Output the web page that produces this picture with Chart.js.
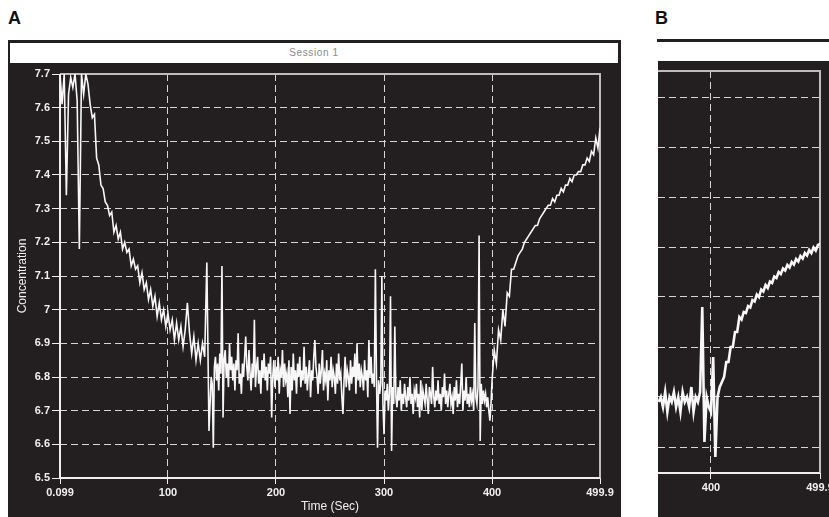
<!DOCTYPE html>
<html><head><meta charset="utf-8">
<script src="https://cdn.jsdelivr.net/npm/chart.js@4.4.0/dist/chart.umd.min.js"></script>
<style>
html,body{margin:0;padding:0;width:829px;height:517px;overflow:hidden;background:#fff;font-family:"Liberation Sans",Arial,sans-serif;}
.lbl{position:absolute;font-weight:bold;font-size:18px;color:#111;line-height:18px;}
#panelA{position:absolute;left:8px;top:40px;width:613px;height:477px;background:#231f20;}
#titleA{position:absolute;left:10px;top:43px;width:608px;height:20px;background:#fff;color:#8a8a8a;font-size:10px;line-height:20px;text-align:center;letter-spacing:0.6px;}
#lineB{position:absolute;left:657px;top:39px;width:172px;height:3px;background:#231f20;}
#panelB{position:absolute;left:658px;top:61px;width:171px;height:456px;background:#231f20;overflow:hidden;}
canvas{position:absolute;left:0;top:0;}
</style></head>
<body>
<div class="lbl" style="left:8px;top:9px;">A</div>
<div class="lbl" style="left:655px;top:9px;">B</div>
<div id="panelA"><canvas id="cA" width="613" height="477" style="width:613px;height:477px"></canvas></div>
<div id="titleA">Session 1</div>
<div id="lineB"></div>
<div id="panelB"><canvas id="cB" width="200" height="456" style="width:200px;height:456px"></canvas></div>
<script>
// ---------- Panel A data (Time in s, Concentration) ----------
const timeA = [
0.1,2,4,6,8,10,12,14,16,18,
20,22,24,26,28,30,32,34,36,38,
40,42,44,46,48,50,52,54,56,58,
60,62,64,66,68,70,72,74,76,78,
80,82,84,86,88,90,92,94,96,98,
100,102,104,106,108,110,112,114,116,118,
120,122,124,126,128,130,132,134,136,138,
140,141,142,143,144,145,146,147,148,149,
150,151,152,153,154,155,156,157,158,159,
160,161,162,163,164,165,166,167,168,169,
170,171,172,173,174,175,176,177,178,179,
180,181,182,183,184,185,186,187,188,189,
190,191,192,193,194,195,196,197,198,199,
200,201,202,203,204,205,206,207,208,209,
210,211,212,213,214,215,216,217,218,219,
220,221,222,223,224,225,226,227,228,229,
230,231,232,233,234,235,236,237,238,239,
240,241,242,243,244,245,246,247,248,249,
250,251,252,253,254,255,256,257,258,259,
260,261,262,263,264,265,266,267,268,269,
270,271,272,273,274,275,276,277,278,279,
280,281,282,283,284,285,286,287,288,289,
290,291,292,293,294,295,296,297,298,299,
300,301,302,303,304,305,306,307,308,309,
310,311,312,313,314,315,316,317,318,319,
320,321,322,323,324,325,326,327,328,329,
330,331,332,333,334,335,336,337,338,339,
340,341,342,343,344,345,346,347,348,349,
350,351,352,353,354,355,356,357,358,359,
360,361,362,363,364,365,366,367,368,369,
370,371,372,373,374,375,376,377,378,379,
380,381,382,383,384,385,386,387,388,389,
390,391,392,393,394,395,396,397,398,399,
400,402,404,406,408,410,412,414,416,418,
420,422,424,426,428,430,432,434,436,438,
440,442,444,446,448,450,452,454,456,458,
460,462,464,466,468,470,472,474,476,478,
480,482,484,486,488,490,492,494,496,498,
499.9];
const concA = [
7.70,7.61,7.70,7.34,7.64,7.69,7.66,7.70,7.62,7.18,
7.70,7.64,7.70,7.67,7.61,7.57,7.58,7.45,7.43,7.37,
7.36,7.32,7.31,7.28,7.29,7.23,7.25,7.21,7.23,7.18,
7.20,7.17,7.18,7.13,7.15,7.12,7.13,7.08,7.11,7.06,
7.08,7.03,7.06,7.01,7.04,6.98,7.02,6.97,7.00,6.95,
6.99,6.94,6.97,6.91,6.96,6.91,6.95,6.89,6.94,7.02,
6.93,6.87,6.92,6.85,6.90,6.85,6.90,6.86,7.14,6.64,
6.80,6.78,6.59,6.83,6.86,6.79,6.84,6.76,6.87,6.81,
7.13,6.68,6.85,6.88,6.80,6.84,6.77,6.90,6.82,6.86,
6.79,6.84,6.76,6.85,6.82,6.93,6.78,6.81,6.75,6.84,
6.80,6.86,6.92,6.83,6.79,6.88,6.81,6.76,6.84,6.80,
6.97,6.77,6.83,6.86,6.78,6.82,6.75,6.85,6.80,6.87,
6.79,6.83,6.76,6.84,6.81,6.86,6.68,6.80,6.85,6.77,
6.83,6.79,6.86,6.75,6.82,6.80,6.88,6.77,6.84,6.79,
6.81,6.74,6.85,6.69,6.83,6.76,6.87,6.79,6.82,6.75,
6.84,6.80,6.86,6.77,6.82,6.79,6.89,6.78,6.83,6.76,
6.81,6.85,6.74,6.82,6.79,6.86,6.91,6.83,6.80,6.75,
6.84,6.78,6.82,6.88,6.76,6.81,6.79,6.85,6.73,6.82,
6.79,6.86,6.77,6.82,6.80,6.75,6.84,6.78,6.87,6.79,
6.81,6.74,6.69,6.79,6.86,6.77,6.82,6.80,6.76,6.85,
6.78,6.83,6.80,6.87,6.75,6.90,6.79,6.84,6.77,6.82,
6.80,6.76,6.85,6.79,6.82,6.74,6.91,6.80,6.86,6.78,
6.81,6.77,7.12,6.80,6.59,6.79,6.75,6.78,7.10,6.72,
6.63,6.76,6.73,6.78,6.70,6.75,7.04,6.58,6.77,6.72,
6.95,6.74,6.71,6.77,6.73,6.79,6.70,6.75,6.72,6.78,
6.74,6.71,6.77,6.73,6.80,6.72,6.75,6.69,6.76,6.74,
6.78,6.71,6.75,6.68,6.79,6.70,6.76,6.74,6.72,6.78,
6.73,6.69,6.77,6.75,6.72,6.83,6.74,6.71,6.76,6.73,
6.79,6.72,6.75,6.70,6.77,6.74,6.81,6.72,6.76,6.71,
6.75,6.78,6.72,6.74,6.69,6.77,6.73,6.79,6.71,6.75,
6.72,6.78,6.84,6.70,6.76,6.73,6.80,6.72,6.75,6.71,
6.77,6.73,6.75,6.70,6.96,6.74,6.72,6.77,7.22,6.61,
6.78,6.72,6.76,6.73,6.75,6.71,6.74,6.70,6.67,6.72,
6.79,6.88,6.84,6.94,6.91,7.00,6.95,7.05,7.04,7.12,
7.12,7.14,7.16,7.17,7.18,7.20,7.21,7.22,7.23,7.24,
7.25,7.25,7.27,7.28,7.29,7.30,7.31,7.31,7.33,7.32,
7.34,7.34,7.36,7.35,7.37,7.37,7.39,7.38,7.40,7.40,
7.41,7.41,7.43,7.43,7.45,7.44,7.47,7.46,7.51,7.48,
7.54];
const xTicksA = [0.099, 100, 200, 300, 400, 499.9];
const yTicksA = [6.5, 6.6, 6.7, 6.8, 6.9, 7.0, 7.1, 7.2, 7.3, 7.4, 7.5, 7.6, 7.7];

// ---------- Panel B data ----------
const timeB = [
352,354,356,358,360,362,364,366,368,370,
372,374,376,378,380,382,384,386,388,390,
392,394,396,398,400,402,404,406,408,410,
412,414,416,418,420,422,424,426,428,430,
432,434,436,438,440,442,444,446,448,450,
452,454,456,458,460,462,464,466,468,470,
472,474,476,478,480,482,484,486,488,490,
492,494,496,498,499.9];
const concB = [
6.69,6.70,6.68,6.71,6.67,6.70,6.69,6.71,6.68,6.70,
6.67,6.71,6.69,6.70,6.68,6.72,6.67,6.70,6.69,6.71,
6.88,6.61,6.70,6.68,6.67,6.78,6.58,6.70,6.72,6.73,
6.74,6.77,6.77,6.80,6.80,6.83,6.83,6.86,6.855,6.87,
6.868,6.882,6.879,6.894,6.891,6.905,6.900,6.915,6.911,6.924,
6.918,6.931,6.928,6.941,6.938,6.950,6.946,6.957,6.953,6.964,
6.959,6.970,6.965,6.976,6.971,6.982,6.977,6.988,6.983,6.994,
6.988,6.999,6.993,7.004,7.006];
const xTicksB = [400, 499.9];
const yTicksB = [6.6, 6.7, 6.8, 6.9, 7.0, 7.1, 7.2, 7.3];

// ---------- styling ----------
const FONT = '"Liberation Sans", Arial, sans-serif';
const GRID = '#d6d6d6';
const CLEAR = 'rgba(0,0,0,0)';
const near = (a, b) => Math.abs(a - b) < 1e-6;

const framePlugin = {
  id: 'frame',
  beforeDatasetsDraw(chart, args, o) {
    const {ctx, chartArea: {left, top, right, bottom}} = chart;
    ctx.save();
    ctx.lineWidth = 2;
    ctx.strokeStyle = '#bdbdbd';
    ctx.beginPath();
    ctx.moveTo(left, top); ctx.lineTo(right, top); ctx.lineTo(right, bottom);
    ctx.stroke();
    ctx.strokeStyle = '#eeeeee';
    ctx.beginPath();
    if (o.leftLine) { ctx.moveTo(left, top); ctx.lineTo(left, bottom); } else { ctx.moveTo(left, bottom); }
    ctx.lineTo(right, bottom);
    ctx.stroke();
    ctx.restore();
  }
};

function makeChart(id, times, values, cfg) {
  return new Chart(document.getElementById(id), {
    type: 'line',
    data: {
      datasets: [{
        data: times.map((t, i) => ({x: t, y: values[i]})),
        borderColor: '#f7f7f7',
        borderWidth: cfg.lw,
        pointRadius: 0,
        tension: 0,
        fill: false
      }]
    },
    options: {
      responsive: false,
      devicePixelRatio: 1,
      animation: false,
      events: [],
      layout: {padding: cfg.padding},
      plugins: {legend: {display: false}, tooltip: {enabled: false}, title: {display: false},
                frame: {leftLine: cfg.leftLine}},
      scales: {
        x: {
          type: 'linear', min: cfg.xmin, max: cfg.xmax,
          afterBuildTicks: s => { s.ticks = cfg.xTicks.map(v => ({value: v})); },
          afterFit: s => { s.height = cfg.xh; },
          ticks: {color: '#f0f0f0', font: {family: FONT, size: 11, weight: 'bold'}, padding: 2,
                  maxRotation: 0, autoSkip: false, callback: v => String(v)},
          grid: {
            color: c => (c.tick && (near(c.tick.value, cfg.xmin) || near(c.tick.value, cfg.xmax))) ? CLEAR : GRID,
            tickColor: '#eeeeee', tickLength: 6, tickBorderDash: [], lineWidth: 1,
            borderDash: [7, 4]
          },
          border: {display: false, dash: [7, 4]},
          title: cfg.xTitle ? {display: true, text: cfg.xTitle, color: '#f0f0f0',
                  font: {family: FONT, size: 12}, padding: {top: 3, bottom: 3}} : {display: false}
        },
        y: {
          min: cfg.ymin, max: cfg.ymax,
          afterBuildTicks: s => { s.ticks = cfg.yTicks.map(v => ({value: v})); },
          afterFit: s => { s.width = cfg.yw; },
          ticks: {display: cfg.yLabels, color: '#f0f0f0', font: {family: FONT, size: 11, weight: 'bold'},
                  padding: 2, autoSkip: false, callback: v => String(Math.round(v * 10) / 10)},
          grid: {
            color: c => (c.tick && (near(c.tick.value, 6.5) || near(c.tick.value, 7.7))) ? CLEAR : GRID,
            drawTicks: cfg.yLabels, tickColor: '#eeeeee', tickLength: 8, tickBorderDash: [], lineWidth: 1,
            borderDash: [7, 4]
          },
          border: {display: false, dash: [7, 4]},
          title: cfg.yTitle ? {display: true, text: cfg.yTitle, color: '#f0f0f0',
                  font: {family: FONT, size: 12}, padding: {top: 7, bottom: 0}} : {display: false}
        }
      }
    },
    plugins: [framePlugin]
  });
}

makeChart('cA', timeA, concA, {
  xmin: 0.099, xmax: 499.9, ymin: 6.5, ymax: 7.7,
  xTicks: xTicksA, yTicks: yTicksA,
  padding: {top: 34, right: 21, left: 0, bottom: 0},
  xh: 39, yw: 52, yLabels: true, leftLine: true, lw: 1.6,
  xTitle: 'Time (Sec)', yTitle: 'Concentration'
});

makeChart('cB', timeB, concB, {
  xmin: 351.43, xmax: 499.9, ymin: 6.548, ymax: 7.352,
  xTicks: xTicksB, yTicks: yTicksB,
  padding: {top: 10, right: 38, left: 0, bottom: 0},
  xh: 44, yw: 0, yLabels: false, leftLine: false, lw: 2.6,
  xTitle: null, yTitle: null
});
</script>
</body></html>
